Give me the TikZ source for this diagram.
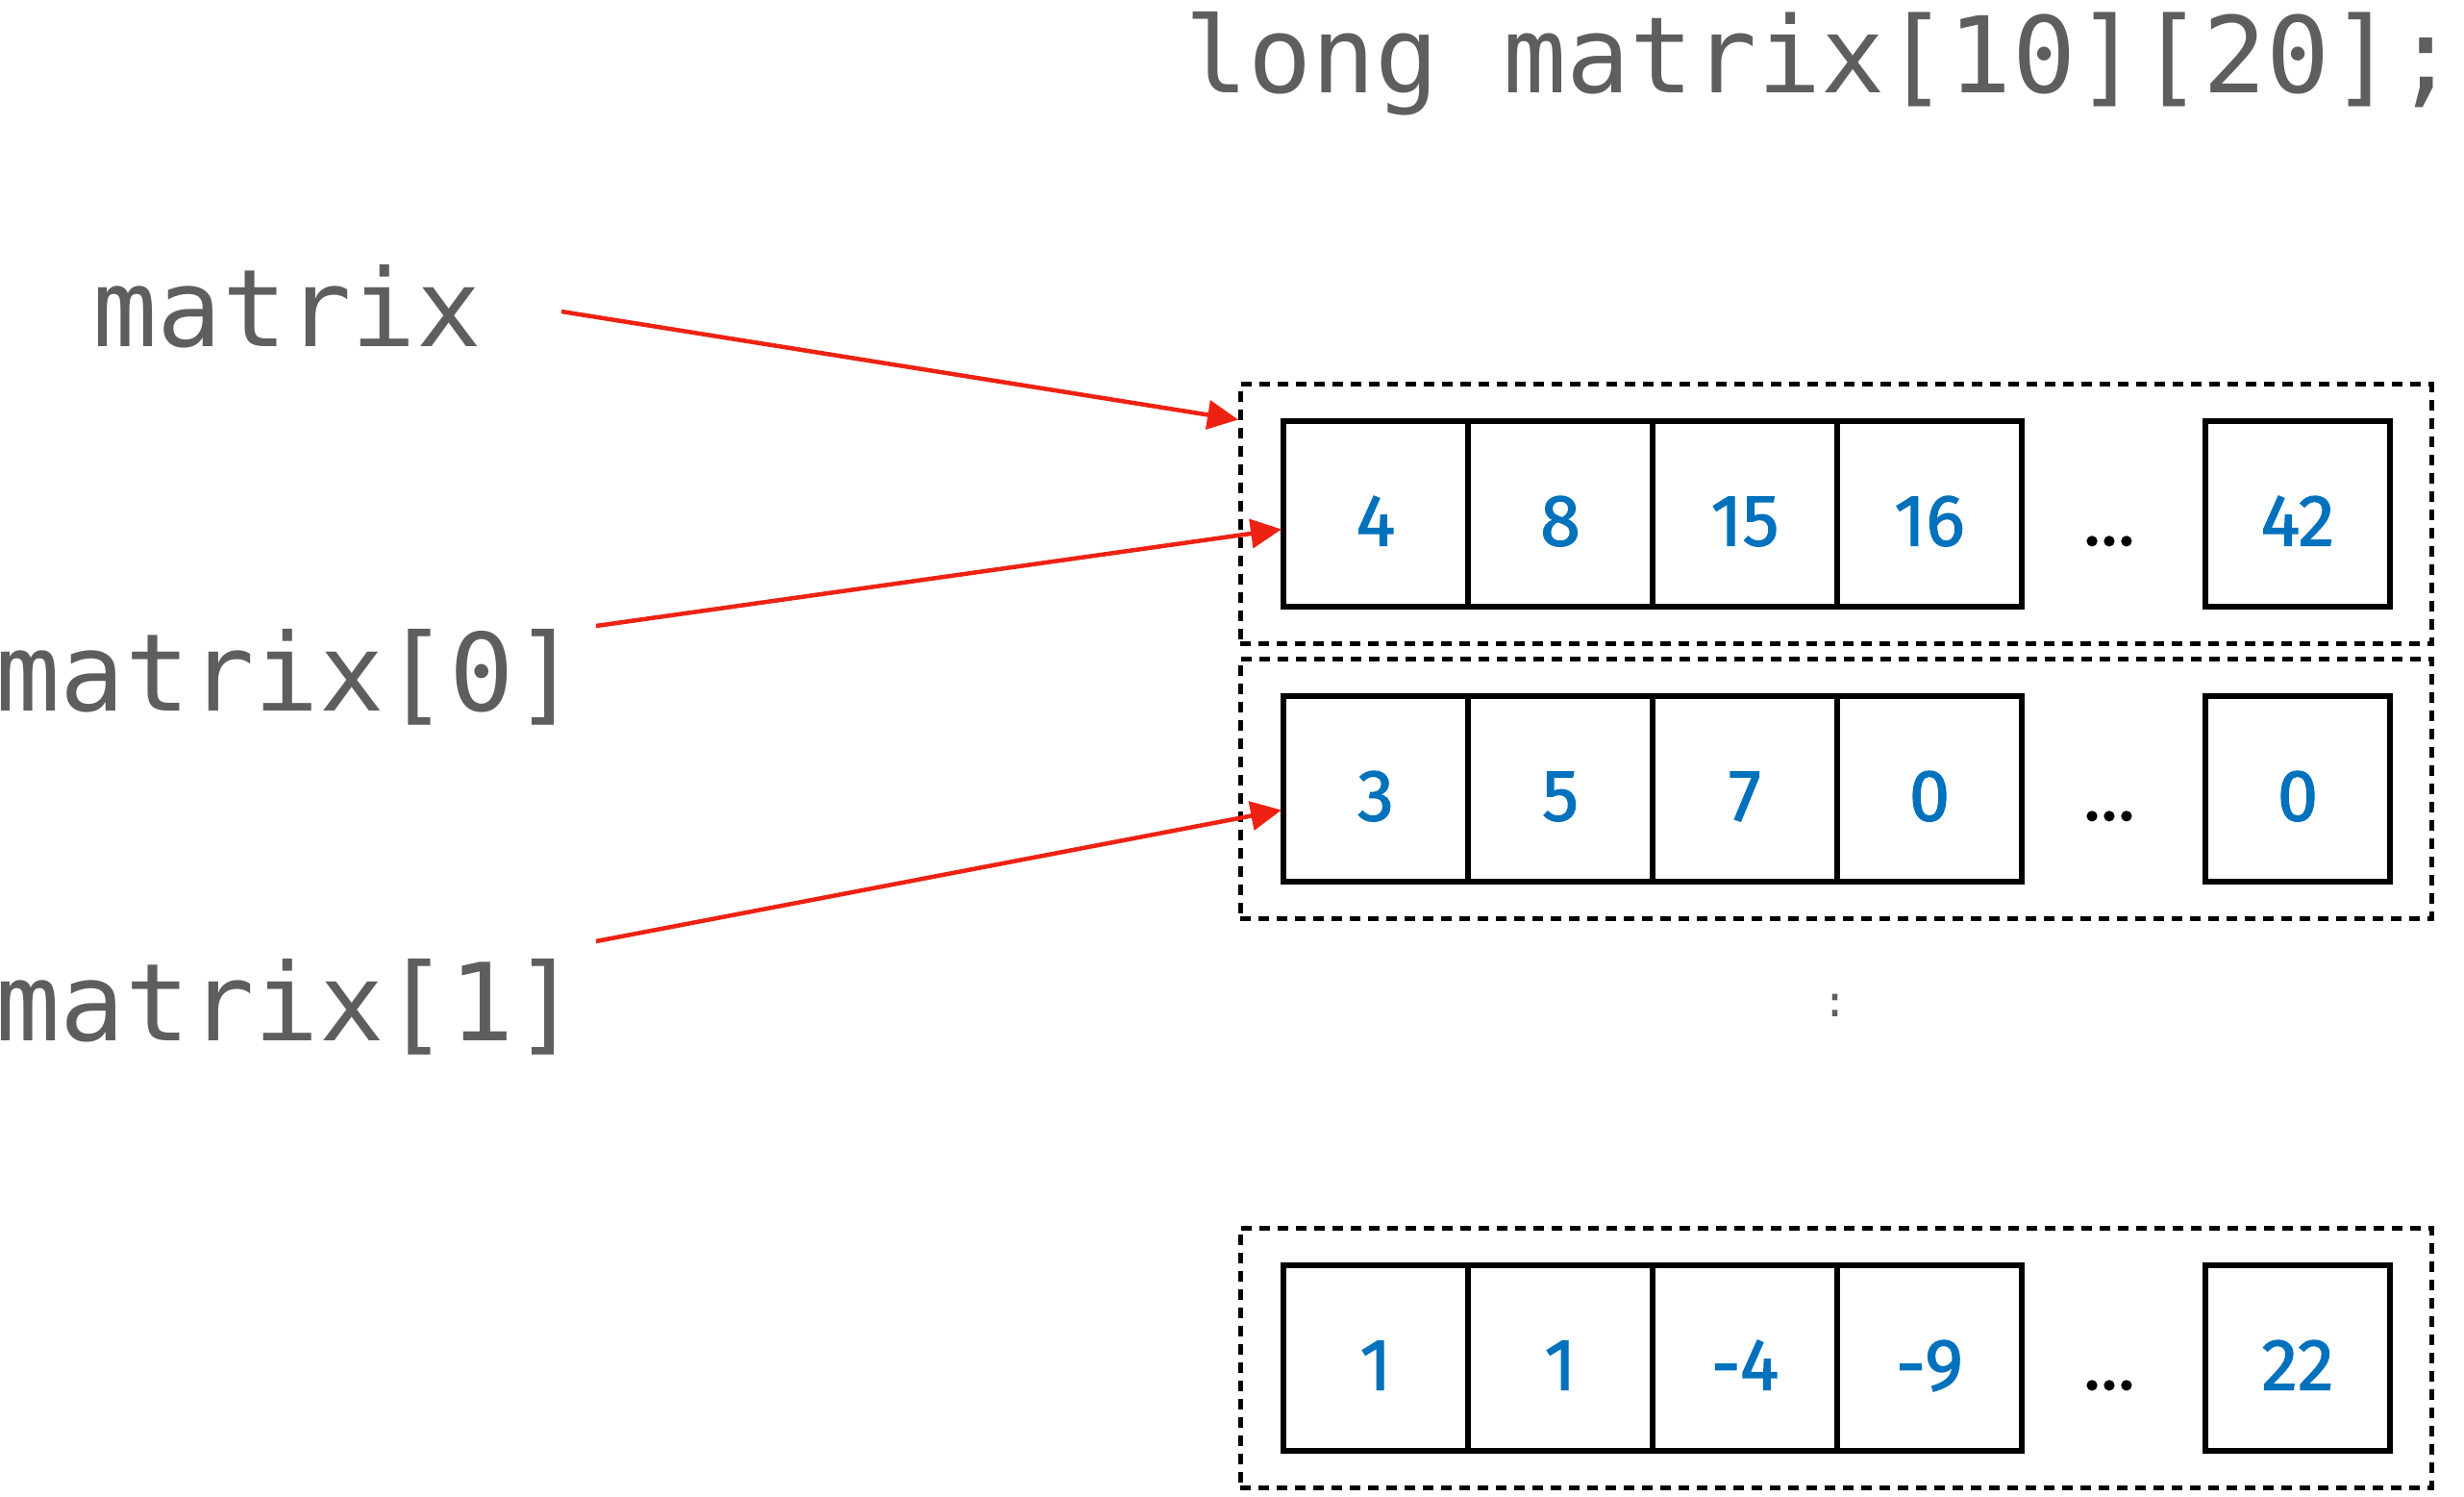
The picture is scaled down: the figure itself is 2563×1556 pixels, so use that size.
\documentclass[tikz,border=0pt]{standalone}
\usepackage{fontspec}
\usetikzlibrary{calc,arrows.meta}
\newfontfamily\monofnt[RawFeature=+zero]{DejaVu Sans Mono}
\newfontfamily\numfnt[FakeBold=1.6]{Fira Sans}
\definecolor{txtgray}{HTML}{5E5E5E}
\definecolor{numblue}{HTML}{0071BC}
\definecolor{arrred}{HTML}{EE2213}
\begin{document}
\begin{tikzpicture}[x=1pt,y=-1pt,
  cell/.style={draw=black,line width=6pt,minimum width=192pt,minimum height=193pt,inner sep=0pt,outer sep=0pt,text height=66pt,text depth=0pt,font=\numfnt\fontsize{76}{76}\selectfont,text=numblue},
  dots/.style={anchor=base,inner sep=0pt,font=\numfnt\fontsize{72}{72}\selectfont,text=black},
  rowbox/.style={draw=black,line width=5pt,dash pattern=on 11pt off 8pt,minimum width=1239pt,minimum height=270pt,inner sep=0pt,outer sep=0pt},
  lbl/.style={font=\monofnt\fontsize{112}{112}\selectfont,text=txtgray,anchor=base west,inner sep=0pt},
  ptr/.style={draw=arrred,line width=4.5pt,-{Triangle[length=32pt,width=30pt]}},
]
\useasboundingbox (0,0) rectangle (2563,1556);
% title and labels
\node[lbl,font=\monofnt\fontsize{110}{110}\selectfont] (title) at (1232,96) {long matrix[10][20];};
\node[lbl] (lm) at (96,360) {matrix};
\node[lbl] (lm0) at (-5,739) {matrix[0]};
\node[lbl] (lm1) at (-5,1082) {matrix[1]};
% row boxes
\node[rowbox] (box1) at (1909.5,534.5) {};
\node[rowbox] (box2) at (1909.5,820) {};
\node[rowbox] (box3) at (1909.5,1412) {};
% row 0
\node[cell] (a0) at (1431,534.5) {4};
\node[cell] (a1) at (1623,534.5) {8};
\node[cell] (a2) at (1815,534.5) {15};
\node[cell] (a3) at (2007,534.5) {16};
\node[dots] (ad) at (2194,567) {…};
\node[cell] (a4) at (2390,534.5) {42};
% row 1
\node[cell] (b0) at (1431,820.5) {3};
\node[cell] (b1) at (1623,820.5) {5};
\node[cell] (b2) at (1815,820.5) {7};
\node[cell] (b3) at (2007,820.5) {0};
\node[dots] (bd) at (2194,853) {…};
\node[cell] (b4) at (2390,820.5) {0};
% last row
\node[cell] (c0) at (1431,1412.5) {1};
\node[cell] (c1) at (1623,1412.5) {1};
\node[cell] (c2) at (1815,1412.5) {-4};
\node[cell] (c3) at (2007,1412.5) {-9};
\node[dots] (cd) at (2194,1445) {…};
\node[cell] (c4) at (2390,1412.5) {22};
% vertical ellipsis
\node[font=\monofnt\fontsize{45}{45}\selectfont,text=txtgray,inner sep=0pt] (vdots) at (1909,1046) {:};
% pointers
\coordinate (s1) at (584,324);
\coordinate (s2) at (620,651);
\coordinate (s3) at (620,979);
\draw[ptr] (s1) -- ($(box1.north west)+(-2,37)$);
\draw[ptr] (s2) -- ($(a0.west)+(-2,16)$);
\draw[ptr] (s3) -- ($(b0.west)+(-2,22)$);
\end{tikzpicture}
\end{document}
